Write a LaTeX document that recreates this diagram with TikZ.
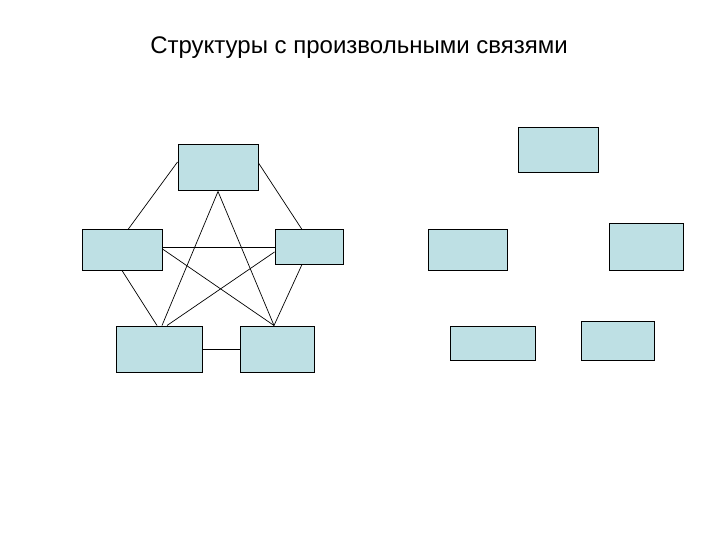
\documentclass[tikz,border=0pt]{standalone}
\usepackage{fontspec}
\setmainfont{Liberation Sans}
\definecolor{boxfill}{RGB}{190,224,228}
\begin{document}
\begin{tikzpicture}[x=1pt,y=-1pt,line width=.7pt,
    blk/.style={draw=black,line width=1pt,fill=boxfill,inner sep=0pt}]
  \useasboundingbox (0,0) rectangle (720,540);
  \node (title) at (359,48) {\fontsize{24}{28}\selectfont Структуры с произвольными связями};
  % left structure: every block linked to every other one
  \node[blk,minimum width=80,minimum height=46] (top) at (218,168) {};
  \node[blk,minimum width=80,minimum height=40] (lft) at (122,250) {};
  \node[blk,minimum width=68,minimum height=34] (rgt) at (309,247) {};
  \node[blk,minimum width=86,minimum height=46] (bl) at (159,349) {};
  \node[blk,minimum width=74,minimum height=46] (br) at (277,349) {};
  \draw ([yshift=6pt]top.west)--([xshift=6pt]lft.north);
  \draw ([yshift=5pt]top.east)--([xshift=-7pt]rgt.north);
  \draw (top.south)--([xshift=3pt]bl.north);
  \draw (top.south)--([xshift=-3pt]br.north);
  \draw ([yshift=3pt]lft.east)--(rgt.west);
  \draw ([yshift=1pt]lft.east)--([xshift=-3pt]br.north);
  \draw ([yshift=-5pt]rgt.west)--([xshift=8pt]bl.north);
  \draw (lft.south)--([xshift=-2pt]bl.north);
  \draw ([xshift=-7pt]rgt.south)--([xshift=-3pt]br.north);
  \draw (bl.east)--(br.west);
  % right structure: blocks alone
  \node[blk,minimum width=80,minimum height=45] (ra) at (558,150.5) {};
  \node[blk,minimum width=79,minimum height=40] (rb) at (467.5,250) {};
  \node[blk,minimum width=74,minimum height=46] (rc) at (646,247) {};
  \node[blk,minimum width=85,minimum height=34] (rd) at (492.5,343) {};
  \node[blk,minimum width=73,minimum height=39] (re) at (617.5,340.5) {};
\end{tikzpicture}
\end{document}
